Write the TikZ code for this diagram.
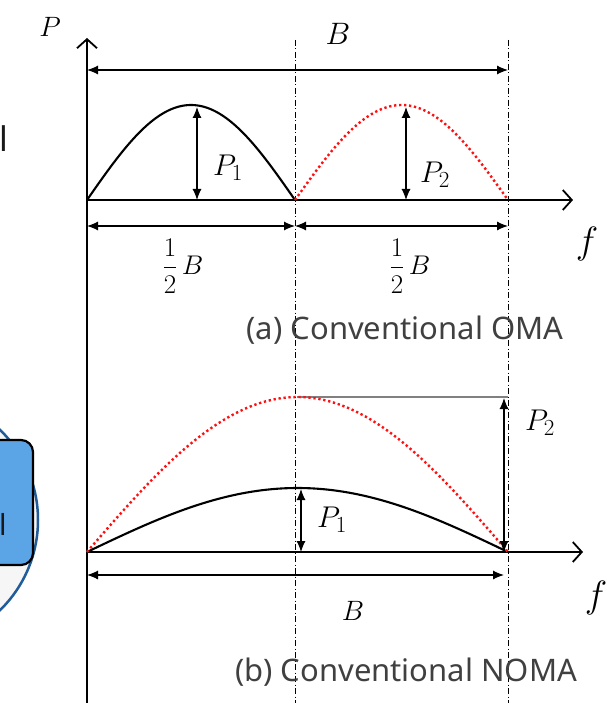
\RequirePackage{fix-cm}
\documentclass[tikz,border=0pt]{standalone}
\usepackage{amsmath}
\usepackage{fontspec}
\newfontfamily\capfont{Noto Sans}
\newcommand{\mysub}[1]{\text{\fontsize{23}{25}\selectfont #1}}
\usetikzlibrary{arrows.meta}
\definecolor{capgray}{HTML}{404040}
\definecolor{boxblue}{HTML}{5BA4E6}
\definecolor{ringblue}{HTML}{1F5C99}
\definecolor{dotred}{HTML}{FF1010}
\begin{document}
\begin{tikzpicture}[x=1pt,y=-1pt,
  axis/.style={line width=1.8pt,-{Straight Barb[length=9pt,width=20pt,line width=1.8pt]}},
  dim/.style={line width=1.1pt,{Latex[length=11pt,width=9pt]}-{Latex[length=11pt,width=9pt]}},
  guide/.style={line width=0.8pt,dash pattern=on 6pt off 2.5pt on 1pt off 2.5pt},
  curveA/.style={line width=2.1pt},
  curveB/.style={line width=2.4pt,dotred,dash pattern=on 2.3pt off 2.7pt},
  lab/.style={inner sep=0pt,font=\fontsize{30}{33}\selectfont},
  captext/.style={inner sep=0pt,text=capgray,font=\capfont\fontsize{31}{36}\selectfont}]
\useasboundingbox (0,0) rectangle (606,703);
\clip (0,0) rectangle (606,703);

% --- left-edge artifacts ---
\draw[ringblue,fill=gray!7,line width=2.5pt] (-88,520) circle[radius=126pt];
\draw[fill=boxblue,line width=2.2pt,rounded corners=12pt] (-20,440) rectangle (33,565);
\node[anchor=base west,inner sep=0pt,text=black!90,font=\capfont\fontsize{34}{36}\selectfont] (artA) at (-1,152) {l};
\node[anchor=base west,inner sep=0pt,text=black!90,font=\capfont\fontsize{29}{32}\selectfont] (artB) at (-1,535) {l};

% --- coordinates ---
\coordinate (ytop) at (87,38);
\coordinate (ybot) at (87,703);
\coordinate (g1t) at (295,40);  \coordinate (g1b) at (295,703);
\coordinate (g2t) at (508,40);  \coordinate (g2b) at (508,703);
% top panel
\coordinate (oa) at (87,200);  \coordinate (fa) at (573,200);
\coordinate (bwl) at (87,70);  \coordinate (bwr) at (508,70);
\coordinate (p1t) at (197,107); \coordinate (p1b) at (197,200);
\coordinate (p2t) at (406,107); \coordinate (p2b) at (406,200);
\coordinate (hl) at (87,226); \coordinate (hm) at (295,226); \coordinate (hr) at (508,226);
% bottom panel
\coordinate (ob) at (87,552);  \coordinate (fb) at (583,552);
\coordinate (q1t) at (301,489); \coordinate (q1b) at (301,552);
\coordinate (q2t) at (504,398); \coordinate (q2b) at (504,552);
\coordinate (ql) at (297,397); \coordinate (qr) at (508,397);
\coordinate (nl) at (87,575); \coordinate (nr) at (504,575);

% guides
\draw[guide] (g1t) -- (g1b);
\draw[guide] (g2t) -- (g2b);

% axes
\draw[axis] (ybot) -- (ytop);
\draw[axis] (oa) -- (fa);
\draw[axis] (ob) -- (fb);

% top panel curves
\draw[curveA] plot[domain=0:180,samples=90,smooth] ({87+1.15556*\x},{200-95*sin(\x)});
\draw[curveB] plot[domain=0:180,samples=90,smooth] ({295+1.18333*\x},{200-95*sin(\x)});

% bottom panel curves
\draw[gray,line width=1.1pt] (ql) -- (qr);
\draw[curveA] plot[domain=0:180,samples=120,smooth] ({87+2.33889*\x},{552-64*sin(\x)});
\draw[curveB] plot[domain=0:180,samples=120,smooth] ({87+2.33889*\x},{552-155*sin(\x)});

% dimension arrows
\draw[dim] (bwl) -- (bwr);
\draw[dim] (p1t) -- (p1b);
\draw[dim] (p2t) -- (p2b);
\draw[dim] (hl) -- (hm);
\draw[dim] (hm) -- (hr);
\draw[dim] (q1t) -- (q1b);
\draw[dim] (q2t) -- (q2b);
\draw[dim] (nl) -- (nr);

% labels
\node[lab,font=\fontsize{28}{30}\selectfont] (lP) at (50,27) {$P$};
\node[lab,font=\fontsize{31}{34}\selectfont] (lBtop) at (338,34) {$B$};
\node[lab] (lP1a) at (228,168) {$P_{\mysub{1}}$};
\node[lab] (lP2a) at (435,175) {$P_{\mysub{2}}$};
\node[lab,font=\fontsize{27}{30}\selectfont] (lha) at (183,266) {$\dfrac{1}{2}\,B$};
\node[lab,font=\fontsize{27}{30}\selectfont] (lhb) at (410,266) {$\dfrac{1}{2}\,B$};
\node[lab,font=\fontsize{38}{40}\selectfont] (lfa) at (587,244) {$f$};
\node[captext] (capa) at (405,330) {(a) Conventional OMA};
\node[lab] (lP1b) at (332,520) {$P_{\mysub{1}}$};
\node[lab] (lP2b) at (540,423) {$P_{\mysub{2}}$};
\node[lab,font=\fontsize{28}{30}\selectfont] (lBb) at (353,611) {$B$};
\node[lab,font=\fontsize{38}{40}\selectfont] (lfb) at (596,598) {$f$};
\node[captext] (capb) at (406,672) {(b) Conventional NOMA};
\end{tikzpicture}
\end{document}
